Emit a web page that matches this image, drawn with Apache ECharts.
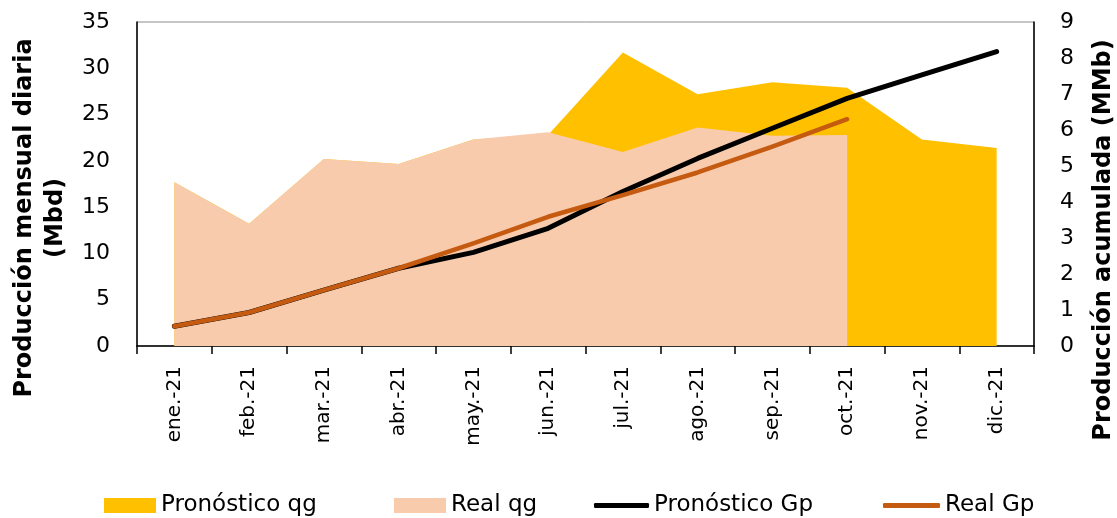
<!DOCTYPE html>
<html>
<head>
<meta charset="utf-8">
<script src="https://cdn.jsdelivr.net/npm/echarts@6/dist/echarts.min.js"></script>
<style>
html,body{margin:0;padding:0;background:#fff;}
#chart{width:1117px;height:518px;}
</style>
</head>
<body>
<div id="chart"></div>
<script>
const categories = ['ene.-21','feb.-21','mar.-21','abr.-21','may.-21','jun.-21','jul.-21','ago.-21','sep.-21','oct.-21','nov.-21','dic.-21'];
const pronosticoQg = [17.7, 13.2, 20.2, 19.65, 22.3, 22.8, 31.7, 27.2, 28.5, 27.9, 22.3, 21.4];
const realQg = [17.7, 13.2, 20.2, 19.65, 22.3, 23.1, 20.95, 23.6, 22.7, 22.8, null, null];
const pronosticoGp = [0.55, 0.93, 1.55, 2.16, 2.6, 3.27, 4.29, 5.21, 6.05, 6.88, 7.53, 8.18];
const realGp = [0.55, 0.93, 1.55, 2.16, 2.85, 3.59, 4.19, 4.82, 5.54, 6.3, null, null];
const leftTicks = {min: 0, max: 35, interval: 5};
const rightTicks = {min: 0, max: 9, interval: 1};

const FONT = 'DejaVu Sans';
const chart = echarts.init(document.getElementById('chart'), null, {renderer: 'canvas'});

const legendBase = {
  top: 489,
  textStyle: {fontFamily: FONT, fontSize: 23, color: '#000'},
  itemGap: 6,
  selectedMode: false
};

const option = {
  backgroundColor: '#fff',
  animation: false,
  textStyle: {fontFamily: FONT},
  grid: {left: 137, right: 83, top: 22, bottom: 172, show: true, borderColor: '#8c8c8c', borderWidth: 1, containLabel: false},
  legend: [
    Object.assign({}, legendBase, {left: 99, data: [{name: 'Pronóstico qg', icon: 'rect'}], itemWidth: 52, itemHeight: 15}),
    Object.assign({}, legendBase, {left: 389, data: [{name: 'Real qg', icon: 'rect'}], itemWidth: 52, itemHeight: 15}),
    Object.assign({}, legendBase, {left: 589, data: [{name: 'Pronóstico Gp', icon: 'roundRect'}], itemWidth: 55, itemHeight: 5}),
    Object.assign({}, legendBase, {left: 878, data: [{name: 'Real Gp', icon: 'roundRect'}], itemWidth: 57, itemHeight: 5})
  ],
  xAxis: {
    type: 'category',
    data: categories,
    boundaryGap: true,
    axisLine: {show: true, lineStyle: {color: '#000', width: 1.5}},
    axisTick: {show: true, length: 8, inside: false, alignWithLabel: false, lineStyle: {color: '#000', width: 1.5}},
    axisLabel: {rotate: 90, margin: 20, fontSize: 20, color: '#000', fontFamily: FONT, interval: 0},
    splitLine: {show: false}
  },
  yAxis: [
    {
      type: 'value', min: leftTicks.min, max: leftTicks.max, interval: leftTicks.interval, position: 'left',
      axisLine: {show: true, lineStyle: {color: '#000', width: 1.5}},
      axisTick: {show: false},
      axisLabel: {fontSize: 22, color: '#000', margin: 27, fontFamily: FONT},
      splitLine: {show: false}
    },
    {
      type: 'value', min: rightTicks.min, max: rightTicks.max, interval: rightTicks.interval, position: 'right',
      axisLine: {show: true, lineStyle: {color: '#000', width: 1.5}},
      axisTick: {show: false},
      axisLabel: {fontSize: 22, color: '#000', margin: 26, fontFamily: FONT},
      splitLine: {show: false}
    }
  ],
  series: [
    {
      name: 'Pronóstico qg', type: 'line', yAxisIndex: 0, data: pronosticoQg,
      symbol: 'none', lineStyle: {width: 0}, itemStyle: {color: '#FFC000'},
      areaStyle: {color: '#FFC000', opacity: 1}, z: 1
    },
    {
      name: 'Real qg', type: 'line', yAxisIndex: 0, data: realQg,
      symbol: 'none', lineStyle: {width: 0}, itemStyle: {color: '#F8CBAD'},
      areaStyle: {color: '#F8CBAD', opacity: 1}, z: 2
    },
    {
      name: 'Pronóstico Gp', type: 'line', yAxisIndex: 1, data: pronosticoGp,
      symbol: 'none', itemStyle: {color: '#000'},
      lineStyle: {color: '#000', width: 5, cap: 'round', join: 'round'}, z: 3
    },
    {
      name: 'Real Gp', type: 'line', yAxisIndex: 1, data: realGp,
      symbol: 'none', itemStyle: {color: '#C55A11'},
      lineStyle: {color: '#C55A11', width: 4.5, cap: 'round', join: 'round'}, z: 4
    }
  ],
  graphic: [
    {
      type: 'text', x: 40, y: 218, rotation: Math.PI / 2,
      style: {text: 'Producción mensual diaria\n(Mbd)', font: 'bold 24px "DejaVu Sans"', fill: '#000', align: 'center', verticalAlign: 'middle', lineHeight: 31}
    },
    {
      type: 'text', x: 1104, y: 240, rotation: Math.PI / 2,
      style: {text: 'Producción acumulada (MMb)', font: 'bold 24px "DejaVu Sans"', fill: '#000', align: 'center', verticalAlign: 'middle'}
    }
  ]
};
chart.setOption(option);
</script>
</body>
</html>
